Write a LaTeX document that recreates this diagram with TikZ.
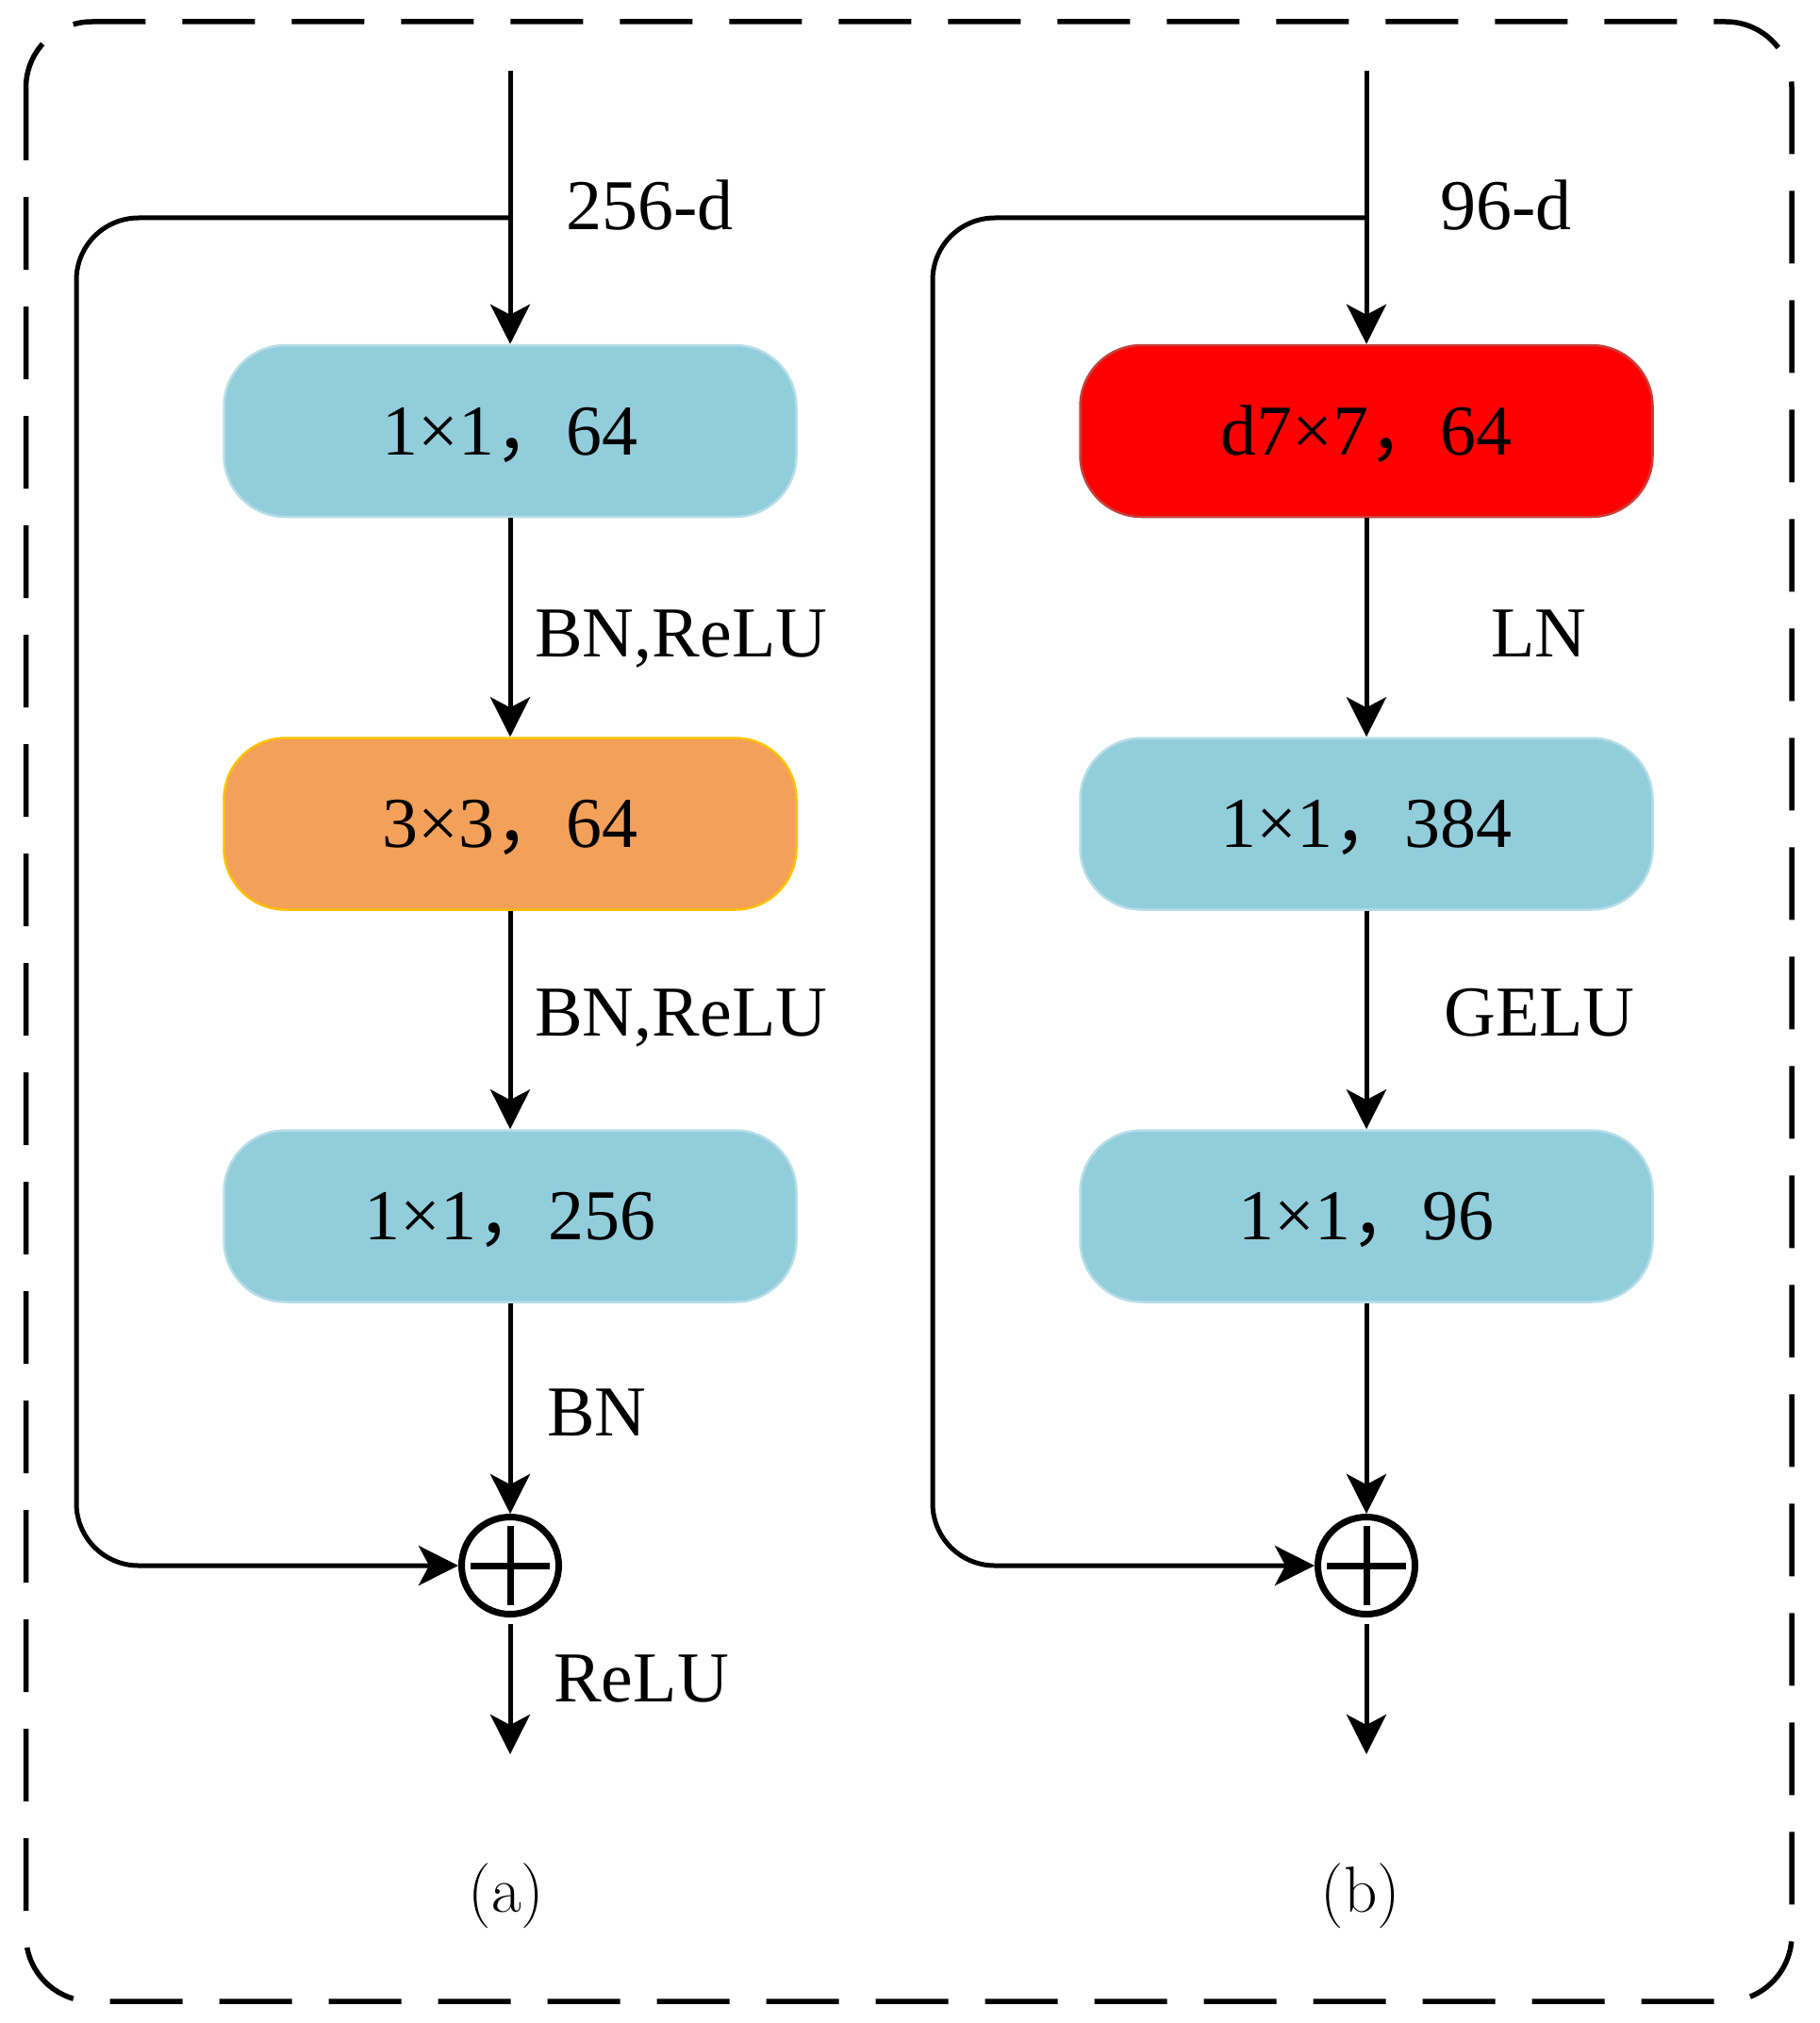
\documentclass[tikz,border=0pt]{standalone}
\usepackage{fontspec}
\newfontfamily\tnr{Liberation Serif}
\newfontfamily\cjk{Noto Sans CJK SC}
\usetikzlibrary{arrows.meta}

\definecolor{convblue}{HTML}{92CDDC}
\definecolor{convblueline}{HTML}{B7DEE8}
\definecolor{convorange}{HTML}{F3A05A}
\definecolor{convorangeline}{HTML}{FFC000}
\definecolor{convred}{HTML}{FF0000}
\definecolor{convredline}{HTML}{C8403C}

% full-width comma
\newcommand{\fwc}{{\cjk ，}}

\tikzset{
    conv/.style = {rectangle, rounded corners=1.3cm, minimum width=12.14cm, minimum height=3.64cm,
        line width=0.05cm, inner sep=0pt, text height=1.0cm, text depth=0cm,
        font=\tnr\fontsize{43.2}{50}\selectfont},
    lbl/.style = {inner sep=0pt, anchor=base west, font=\tnr\fontsize{43.2}{50}\selectfont},
    flow/.style = {line width=0.1cm, -{Stealth[length=0.84cm, width=0.84cm, inset=0.22cm]}},
    addop/.style = {circle, draw, line width=0.14cm, minimum size=2.06cm, inner sep=0pt,
        path picture={
            \draw[line width=0.14cm]
                ([xshift=-0.84cm]path picture bounding box.center) -- ([xshift=0.84cm]path picture bounding box.center)
                ([yshift=-0.84cm]path picture bounding box.center) -- ([yshift=0.84cm]path picture bounding box.center);
        }},
    sub/.style = {inner sep=0pt, anchor=base, font=\fontsize{39.3}{45}\selectfont}
}

\begin{document}
\begin{tikzpicture}
    \useasboundingbox (0,0) rectangle (38.58,-42.9);
    \draw[line width=0.11cm, dash pattern=on 1.54cm off 0.78cm, rounded corners=1.4cm]
        (0.55,-0.46) rectangle (38.0,-42.44);

    % (a)
    \coordinate (inA) at (10.82,-1.5);
    \coordinate (brA) at (10.82,-4.62);
    \coordinate (cornA) at (1.62,-33.2);
    \coordinate (outA) at (10.82,-37.2);
    \node[conv, fill=convblue, draw=convblueline] (c1A) at (10.82,-9.14) {1×1\fwc 64};
    \node[conv, fill=convorange, draw=convorangeline] (c2A) at (10.82,-17.47) {3×3\fwc 64};
    \node[conv, fill=convblue, draw=convblueline] (c3A) at (10.82,-25.79) {1×1\fwc 256};
    \node[addop] (addA) at (10.82,-33.2) {};
    \draw[flow] (inA) -- (c1A);
    \draw[flow] (c1A) -- (c2A);
    \draw[flow] (c2A) -- (c3A);
    \draw[flow] (c3A) -- (addA);
    \draw[flow, rounded corners=1.32cm] (brA) -| (cornA) -- (addA);
    \draw[flow] ([yshift=-0.14cm]addA.south) -- (outA);
    \node[lbl] (dA) at (12.0,-4.86) {256-d};
    \node[lbl] (l1A) at (11.34,-13.92) {BN,ReLU};
    \node[lbl] (l2A) at (11.34,-21.96) {BN,ReLU};
    \node[lbl] (l3A) at (11.6,-30.44) {BN};
    \node[lbl] (l4A) at (11.74,-36.08) {ReLU};
    \node[sub] (capA) at (10.74,-40.54) {(a)};

    % (b)
    \coordinate (inB) at (28.98,-1.5);
    \coordinate (brB) at (28.98,-4.62);
    \coordinate (cornB) at (19.78,-33.2);
    \coordinate (outB) at (28.98,-37.2);
    \node[conv, fill=convred, draw=convredline] (c1B) at (28.98,-9.14) {d7×7\fwc 64};
    \node[conv, fill=convblue, draw=convblueline] (c2B) at (28.98,-17.47) {1×1\fwc 384};
    \node[conv, fill=convblue, draw=convblueline] (c3B) at (28.98,-25.79) {1×1\fwc 96};
    \node[addop] (addB) at (28.98,-33.2) {};
    \draw[flow] (inB) -- (c1B);
    \draw[flow] (c1B) -- (c2B);
    \draw[flow] (c2B) -- (c3B);
    \draw[flow] (c3B) -- (addB);
    \draw[flow, rounded corners=1.32cm] (brB) -| (cornB) -- (addB);
    \draw[flow] ([yshift=-0.14cm]addB.south) -- (outB);
    \node[lbl] (dB) at (30.54,-4.86) {96-d};
    \node[lbl] (l1B) at (31.62,-13.92) {LN};
    \node[lbl] (l2B) at (30.62,-21.96) {GELU};
    \node[sub] (capB) at (28.86,-40.54) {(b)};
\end{tikzpicture}
\end{document}
